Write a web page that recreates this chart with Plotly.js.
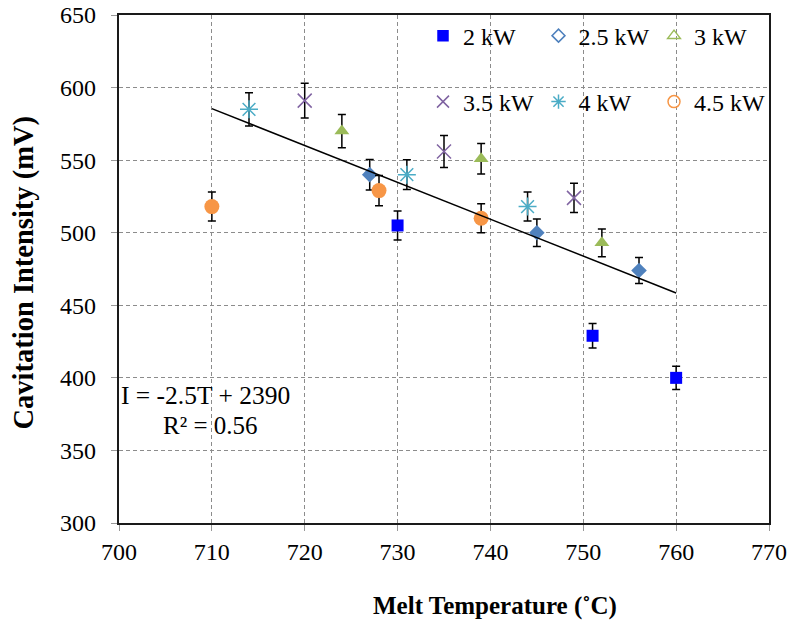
<!DOCTYPE html>
<html><head><meta charset="utf-8">
<script src="https://cdn.plot.ly/plotly-3.0.1.min.js"></script>
<style>html,body{margin:0;padding:0;background:#fff}#chart{width:790px;height:621px}</style>
</head><body><div id="chart"></div>
<script>
// ---- data ----
const seriesNames = ['2 kW', '2.5 kW', '3 kW', '3.5 kW', '4 kW', '4.5 kW'];
const temp2kW = [730, 751, 760];   const int2kW = [505, 429, 400];   const err2kW = [10, 8.5, 8];
const temp25kW = [727, 745, 756];  const int25kW = [540, 500, 474];  const err25kW = [10.5, 9.5, 9];
const temp3kW = [724, 739, 752];   const int3kW = [570, 551, 493];   const err3kW = [11.5, 10.5, 9.5];
const temp35kW = [720, 735, 749];  const int35kW = [591, 556, 524];  const err35kW = [12, 11, 10];
const temp4kW = [714, 731, 744];   const int4kW = [585, 540, 518];   const err4kW = [11.5, 10.3, 10];
const temp45kW = [710, 728, 739];  const int45kW = [518, 529, 510];  const err45kW = [10, 10.5, 10];
const trendTemp = [710, 760];
const trendInt = [585.5, 458.5];
const equationText = 'I = -2.5T + 2390';
const r2Text = 'R² = 0.56';
const xTitle = 'Melt Temperature (˚C)';
const yTitle = 'Cavitation Intensity (mV)';

const SERIF = 'Liberation Serif';
const colors = ['#0000ff', '#4f81bd', '#9bbb59', '#8064a2', '#4bacc6', '#f79646'];
const fillSymbols = ['square', 'diamond', 'triangle-up', 'x-thin-open', 'asterisk-open', 'circle'];
const fillSizes = [12, 12, 13, 14, 15, 15];
const legendSymbols = ['square', 'diamond-open', 'triangle-up-open', 'x-thin-open', 'asterisk-open', 'circle-open'];
const legendSizes = [10, 10, 11, 12, 12, 12];

const xs = [temp2kW, temp25kW, temp3kW, temp35kW, temp4kW, temp45kW];
const ys = [int2kW, int25kW, int3kW, int35kW, int4kW, int45kW];
const es = [err2kW, err25kW, err3kW, err35kW, err4kW, err45kW];

const traces = [];
for (let i = 0; i < 6; i++) {
  const thin = fillSymbols[i].indexOf('open') >= 0;
  traces.push({
    type: 'scatter', mode: 'markers', x: xs[i], y: ys[i], name: seriesNames[i],
    showlegend: false,
    marker: { symbol: fillSymbols[i], size: fillSizes[i], color: colors[i],
              line: { color: colors[i], width: thin ? 1.5 : 0 } },
    error_y: { type: 'data', array: es[i], visible: true, color: '#000', thickness: 1.5, width: 4 }
  });
}
traces.push({
  type: 'scatter', mode: 'lines', x: trendTemp, y: trendInt, showlegend: false,
  line: { color: '#000', width: 1.5 }, hoverinfo: 'skip'
});
// legend-only entries (open symbols as in the reference legend)
for (let i = 0; i < 6; i++) {
  traces.push({
    type: 'scatter', mode: 'markers', x: [null], y: [null], name: seriesNames[i],
    legend: i < 3 ? 'legend' : 'legend2',
    marker: { symbol: legendSymbols[i], size: legendSizes[i], color: colors[i],
              line: { color: colors[i], width: 1.5 } }
  });
}

const legendBase = {
  orientation: 'h', xanchor: 'left', yanchor: 'middle',
  bgcolor: 'rgba(0,0,0,0)', borderwidth: 0, entrywidth: 70.5,
  font: { family: SERIF, size: 24, color: '#000' }, itemsizing: 'trace'
};

const layout = {
  width: 790, height: 621,
  margin: { l: 119, r: 21, t: 15, b: 98, autoexpand: false },
  paper_bgcolor: '#fff', plot_bgcolor: '#fff',
  showlegend: true,
  font: { family: SERIF, size: 24, color: '#000' },
  xaxis: {
    range: [700, 770], dtick: 10, tick0: 700,
    showgrid: true, gridcolor: '#8c8c8c', gridwidth: 1, griddash: '4px,3px',
    zeroline: false, showline: true, mirror: true, linecolor: '#1a1a1a', linewidth: 2,
    ticks: 'outside', ticklen: 6, tickcolor: '#999', tickwidth: 1,
    tickfont: { family: SERIF, size: 24, color: '#000' }
  },
  yaxis: {
    range: [300, 650], dtick: 50, tick0: 300,
    showgrid: true, gridcolor: '#8c8c8c', gridwidth: 1, griddash: '4px,3px',
    zeroline: false, showline: true, mirror: true, linecolor: '#1a1a1a', linewidth: 2,
    ticks: 'outside', ticklen: 6, tickcolor: '#999', tickwidth: 1,
    tickfont: { family: SERIF, size: 24, color: '#000' }
  },
  legend: Object.assign({}, legendBase, { x: 0.4677, y: 0.9586 }),
  legend2: Object.assign({}, legendBase, { x: 0.4677, y: 0.8287 }),
  annotations: [
    { xref: 'paper', yref: 'paper', x: 0.578, y: -0.163, xanchor: 'center', yanchor: 'middle',
      text: '<b>' + xTitle + '</b>', showarrow: false, font: { family: SERIF, size: 25, color: '#000' } },
    { xref: 'paper', yref: 'paper', x: -0.1455, y: 0.494, xanchor: 'center', yanchor: 'middle',
      text: '<b>' + yTitle + '</b>', textangle: -90, showarrow: false, font: { family: SERIF, size: 28.5, color: '#000' } },
    { xref: 'x', yref: 'y', x: 709.3, y: 388, xanchor: 'center', yanchor: 'middle',
      text: equationText, showarrow: false, font: { family: SERIF, size: 25.5, color: '#000' } },
    { xref: 'x', yref: 'y', x: 709.9, y: 367.5, xanchor: 'center', yanchor: 'middle',
      text: r2Text, showarrow: false, font: { family: SERIF, size: 25, color: '#000' } }
  ]
};

Plotly.newPlot('chart', traces, layout, { staticPlot: true, displayModeBar: false }).then(function () {
  // the reference keeps a wider gap between the y tick labels and the axis (labels end near x = 96)
  const labels = document.querySelectorAll('.yaxislayer-above .ytick text');
  labels.forEach(function (t) {
    const right = t.getBoundingClientRect().right;
    const dx = 96 - right;
    if (Math.abs(dx) > 1.5) {
      const tr = t.getAttribute('transform') || '';
      t.setAttribute('transform', 'translate(' + dx.toFixed(1) + ',0) ' + tr);
    }
  });
});
</script>
</body></html>
